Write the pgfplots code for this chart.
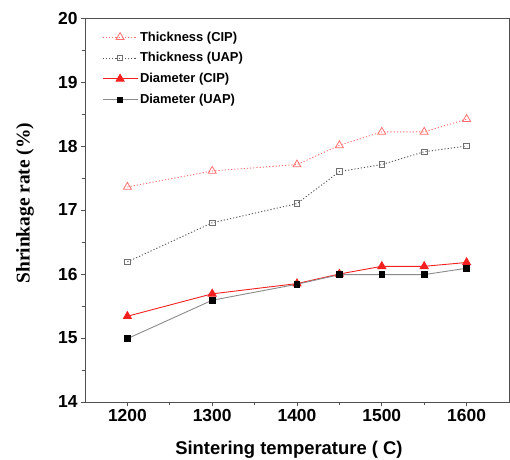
\documentclass[border=0pt]{standalone}
\usepackage{pgfplots}
\pgfplotsset{compat=1.18}
\usepackage{fontspec}
\setmainfont{Liberation Sans}
\newfontfamily\timesfont{Liberation Serif}
\definecolor{tcip}{HTML}{FF6F6F}
\definecolor{dcip}{HTML}{F42020}
\definecolor{tuap}{HTML}{555555}
\definecolor{tuapm}{HTML}{707070}
\definecolor{duap}{HTML}{8A8A8A}
\definecolor{axc}{HTML}{505050}
\begin{document}
\begin{tikzpicture}
\begin{axis}[
  scale only axis,
  width=424bp, height=384bp,
  xmin=1150, xmax=1650,
  ymin=14, ymax=20,
  xtick={1200,1300,1400,1500,1600},
  ytick={14,15,16,17,18,19,20},
  minor x tick num=1,
  minor y tick num=1,
  tick pos=left,
  tick align=outside,
  major tick length=4bp,
  minor tick length=2.5bp,
  axis line style={axc, line width=0.8pt},
  every tick/.style={axc, line width=0.8pt},
  /pgf/number format/assume math mode=true,
  /pgf/number format/1000 sep={},
  ticklabel style={font=\bfseries\fontsize{17.5}{18}\selectfont},
  xlabel={Sintering temperature ( C)},
  ylabel={Shrinkage rate (\%)},
  xlabel style={at={(axis description cs:0.481,-0.1016)}, anchor=north, inner sep=0pt, font=\bfseries\fontsize{18.5}{20}\selectfont},
  ylabel style={at={(axis description cs:-0.163,0.518)}, anchor=north, inner sep=0pt, font=\timesfont\bfseries\fontsize{19.5}{21}\selectfont},
  legend style={at={(axis description cs:0.040,0.97)}, anchor=north west, draw=none, fill=none,
    font=\bfseries\fontsize{13}{14}\selectfont, inner sep=0pt, row sep=6bp,
    cells={anchor=west}},
  legend cell align=left,
  legend image code/.code={\draw[mark repeat=2,mark phase=2,#1] plot coordinates {(0bp,0bp) (17.5bp,0bp) (35bp,0bp)};},
]
\addplot[tcip, line width=0.9pt, dash pattern=on 1.2pt off 2pt, mark=triangle, mark size=4.6pt, mark options={solid, tcip, line width=0.8pt}]
  coordinates {(1200,17.36) (1300,17.61) (1400,17.71) (1450,18.01) (1500,18.22) (1550,18.22) (1600,18.42)};
\addlegendentry{Thickness (CIP)}
\addplot[tuap, line width=0.9pt, dash pattern=on 1.2pt off 2pt, mark=square, mark size=2.8pt, mark options={solid, tuapm, line width=0.8pt}]
  coordinates {(1200,16.19) (1300,16.80) (1400,17.10) (1450,17.60) (1500,17.71) (1550,17.91) (1600,18.00)};
\addlegendentry{Thickness (UAP)}
\addplot[dcip, line width=0.9pt, mark=triangle*, mark size=4.6pt, mark options={solid, fill=dcip, draw=dcip}]
  coordinates {(1200,15.34) (1300,15.69) (1400,15.85) (1450,16.00) (1500,16.12) (1550,16.12) (1600,16.18)};
\addlegendentry{Diameter (CIP)}
\addplot[duap, line width=0.9pt, mark=square*, mark size=2.8pt, mark options={solid, fill=black, draw=black}]
  coordinates {(1200,14.99) (1300,15.59) (1400,15.84) (1450,15.99) (1500,15.99) (1550,15.99) (1600,16.09)};
\addlegendentry{Diameter (UAP)}
\end{axis}
\pgfresetboundingbox
\path[use as bounding box] (-85bp,-58bp) rectangle (425bp,402bp);
\end{tikzpicture}
\end{document}
